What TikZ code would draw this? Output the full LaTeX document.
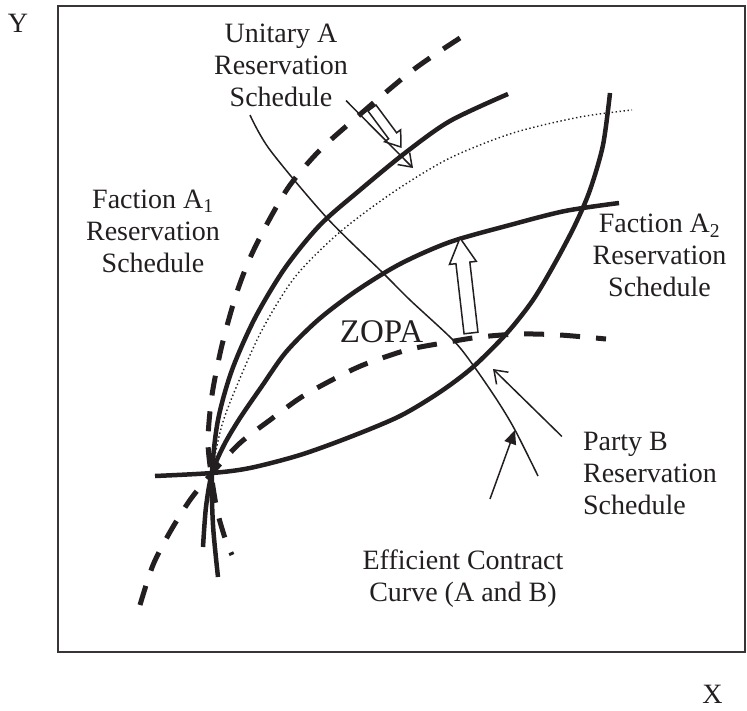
\documentclass[tikz,border=0pt]{standalone}
\usepackage{fontspec}
\setmainfont{Liberation Serif}
\usetikzlibrary{arrows.meta}
\definecolor{ink}{HTML}{231F20}
\begin{document}
\begin{tikzpicture}[x=1pt,y=-1pt,
	lbl/.style={font=\fontsize{28}{32}\selectfont, align=center, inner sep=0pt, text=ink},
	frame/.style={line width=1.8pt, draw=ink!90},
	sched/.style={line width=4.5pt, draw=ink},
	dashsched/.style={line width=5pt, draw=ink, dash pattern=on 20pt off 16pt},
	dotsched/.style={line width=1.4pt, draw=ink, dash pattern=on 1.4pt off 2.6pt},
	ccurve/.style={line width=1.5pt, draw=ink},
	pointer/.style={line width=1.5pt, draw=ink, -{Straight Barb[length=12pt,width=17pt,line width=1.5pt]}},
	solidpointer/.style={line width=1.5pt, draw=ink, -{Triangle[length=14pt,width=12pt]}},
	hollow/.style={line width=1.5pt, draw=ink, fill=white, line join=miter}]
	\useasboundingbox (0,0) rectangle (747,710);
	\draw[frame] (58,6) rectangle (745,652);
	
	\draw[dashsched] plot[smooth] coordinates {(460,38) (413,70) (357,117) (320,150) (290,185) (268,222) (250,258) (236,295) (222,345) (212,395) (208,440) (211,473) (217,510) (225,538) (232,555)};
	\draw[dashsched] plot[smooth] coordinates {(140,605) (153,565) (170,532) (190,500) (212,473) (240,443) (270,420) (300,398) (330,381) (363,365) (407,350) (443,343) (480,337) (520,334) (560,335) (606,339)};
	\draw[dotsched] plot[smooth] coordinates {(213,533) (212,503) (212,473) (222,425) (238,383) (262,330) (295,277) (340,232) (395,191) (450,158) (513,133) (580,117) (632,110)};
	\draw[sched] plot[smooth] coordinates {(218,577) (213,525) (212,473) (218,420) (232,370) (255,318) (285,268) (320,225) (360,190) (405,153) (450,121) (508,94)};
	\draw[sched] plot[smooth] coordinates {(203,547) (206,507) (212,473) (224,445) (240,418) (262,386) (286,352) (318,320) (356,291) (400,264) (450,242) (510,225) (565,211) (619,203)};
	\draw[sched] plot[smooth] coordinates {(155,476) (212,473) (250,468) (300,455) (350,437) (400,416) (440,392) (473,367) (507,333) (533,300) (555,263) (575,225) (590,190) (603,145) (610,93)};
	\draw[ccurve] plot[smooth] coordinates {(250,115) (270,150) (327,218) (383,273) (410,300) (453,340) (473,365) (497,400) (515,430) (538,476)};
	
	\draw[hollow, shift={(372,108)}, rotate=-53.4] (0,-5) -- (34.6,-5) -- (34.6,-10) -- (48.6,0) -- (34.6,10) -- (34.6,5) -- (0,5) -- cycle;
	\draw[hollow, shift={(471,333)}, rotate=96.6] (0,-7) -- (70.6,-7) -- (70.6,-13.5) -- (95.6,0) -- (70.6,13.5) -- (70.6,7) -- (0,7) -- cycle;
	
	\node[lbl] (yaxis) at (18,23) {Y};
	\node[lbl] (xaxis) at (712.5,694) {X};
	\node[lbl] (unitary) at (281,65) {Unitary A\\Reservation\\Schedule};
	\node[lbl] (factionA1) at (153,231) {Faction A\textsubscript{1}\\Reservation\\Schedule};
	\node[lbl] (factionA2) at (659.5,255.5) {Faction A\textsubscript{2}\\Reservation\\Schedule};
	\node[lbl, align=left] (partyB) at (650,473) {Party B\\Reservation\\Schedule};
	\node[lbl, font=\fontsize{33}{36}\selectfont] (zopa) at (381.5,331.5) {ZOPA};
	\node[lbl] (contract) at (463,579) {Efficient Contract\\Curve (A and B)};
	
	\coordinate (unitary-tip) at (413,168);
	\coordinate (partyB-tip) at (493,369);
	\coordinate (contract-tip) at (515,430);
	\draw[pointer] ([shift={(-2,-6)}]unitary.south east) -- (unitary-tip);
	\draw[pointer] ([shift={(-21,5)}]partyB.north west) -- (partyB-tip);
	\draw[solidpointer] ([shift={(27,-51)}]contract.north) -- (contract-tip);
	
\end{tikzpicture}
\end{document}
